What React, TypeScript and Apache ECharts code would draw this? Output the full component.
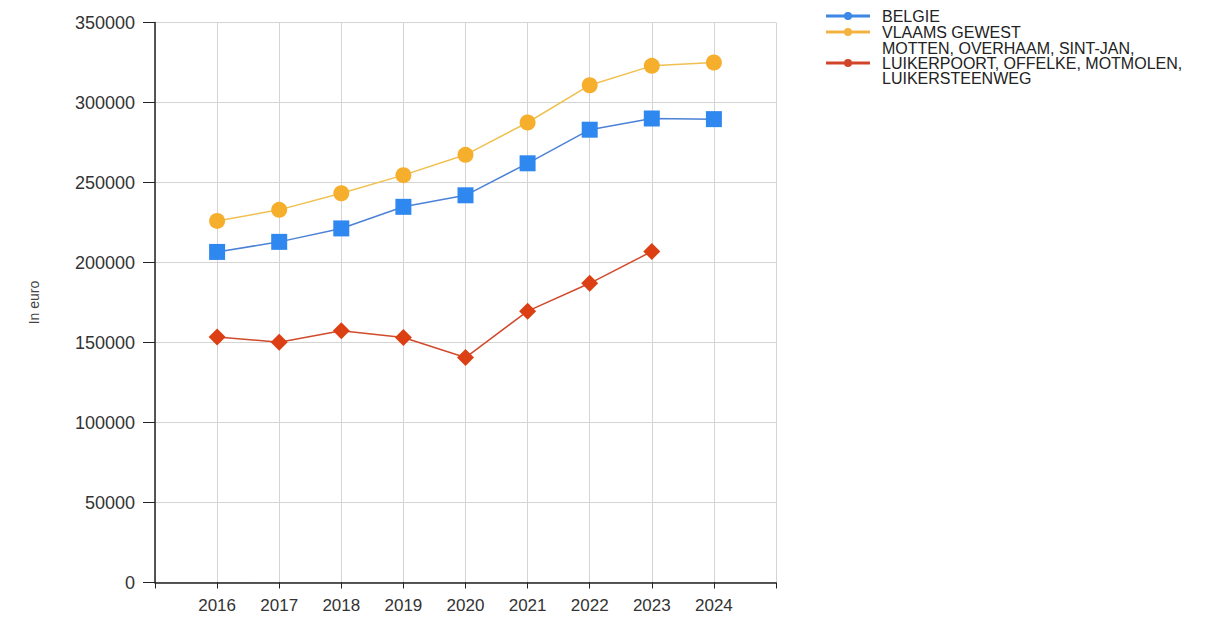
import React, { useEffect, useRef } from "react";
import * as echarts from "echarts";

const years = [2016, 2017, 2018, 2019, 2020, 2021, 2022, 2023, 2024];
const belgie = [206600, 212900, 221300, 234800, 242000, 262000, 283000, 290000, 289600];
const vlaams = [226000, 232900, 243300, 254600, 267300, 287500, 310800, 322900, 325000];
const motten = [153500, 150200, 157300, 153100, 140600, 169600, 187000, 206900, null];
const seriesNames = [
  "BELGIE",
  "VLAAMS GEWEST",
  "MOTTEN, OVERHAAM, SINT-JAN,\nLUIKERPOORT, OFFELKE, MOTMOLEN,\nLUIKERSTEENWEG",
];
const yTicks = { min: 0, max: 350000, interval: 50000 };
const xRange = { min: 2015, max: 2025 };

const legendIcon = "path://M0,2.5h44v3H0z M18,4a4,4 0 1,1 8,0a4,4 0 1,1 -8,0z";

export default function App() {
  const ref = useRef<HTMLDivElement>(null);
  useEffect(() => {
    if (!ref.current) return;
    const chart = echarts.init(ref.current, undefined, { renderer: "svg" });
    const font = "'Liberation Sans', Arial, sans-serif";
    const pair = (vals: (number | null)[]) =>
      years.map((y, i) => [y, vals[i] === null ? "-" : vals[i]]);
    chart.setOption({
      animation: false,
      backgroundColor: "#ffffff",
      textStyle: { fontFamily: font },
      grid: { left: 155, right: 456, top: 22.5, bottom: 34.5, containLabel: false },
      legend: {
        orient: "vertical",
        left: 826,
        top: 8,
        padding: 0,
        itemWidth: 44,
        itemHeight: 8,
        itemGap: 0,
        icon: legendIcon,
        textStyle: {
          fontSize: 16,
          lineHeight: 15,
          color: "#222",
          fontFamily: font,
          padding: [0, 0, 0, 7],
        },
        data: [
          { name: seriesNames[0], itemStyle: { color: "#3c86e6" } },
          { name: seriesNames[1], itemStyle: { color: "#f2b340" } },
          { name: seriesNames[2], itemStyle: { color: "#d2442a" } },
        ],
      },
      xAxis: {
        type: "value",
        min: xRange.min,
        max: xRange.max,
        interval: 1,
        axisLine: { show: true, lineStyle: { color: "#222", width: 1.5 } },
        axisTick: { show: true, length: 6, lineStyle: { color: "#222" } },
        axisLabel: {
          fontSize: 17,
          color: "#333",
          margin: 14,
          formatter: (v: number) => (v === xRange.min || v === xRange.max ? "" : String(v)),
        },
        splitLine: { show: true, lineStyle: { color: "#d4d4d4" } },
      },
      yAxis: {
        type: "value",
        min: yTicks.min,
        max: yTicks.max,
        interval: yTicks.interval,
        name: "In euro",
        nameLocation: "middle",
        nameGap: 114,
        nameTextStyle: { fontSize: 14, color: "#444" },
        axisLine: { show: true, lineStyle: { color: "#222", width: 1.5 } },
        axisTick: { show: true, length: 12, lineStyle: { color: "#222" } },
        axisLabel: {
          fontSize: 18,
          color: "#333",
          margin: 20,
          formatter: (v: number) => String(v),
        },
        splitLine: { show: true, lineStyle: { color: "#d4d4d4" } },
      },
      series: [
        {
          name: seriesNames[0],
          type: "line",
          data: pair(belgie),
          symbol: "rect",
          symbolSize: 16,
          itemStyle: { color: "#2f88ef" },
          lineStyle: { color: "#4b82d6", width: 1.5 },
        },
        {
          name: seriesNames[1],
          type: "line",
          data: pair(vlaams),
          symbol: "circle",
          symbolSize: 16,
          itemStyle: { color: "#f6ae2d" },
          lineStyle: { color: "#f0c050", width: 1.5 },
        },
        {
          name: seriesNames[2],
          type: "line",
          data: pair(motten),
          symbol: "diamond",
          symbolSize: 17,
          itemStyle: { color: "#dc3f14" },
          lineStyle: { color: "#d14a2c", width: 1.5 },
        },
      ],
    });
    return () => chart.dispose();
  }, []);
  return (
    <div
      ref={ref}
      style={{ position: "fixed", left: 0, top: 0, width: 1232, height: 617, background: "#fff" }}
    />
  );
}
